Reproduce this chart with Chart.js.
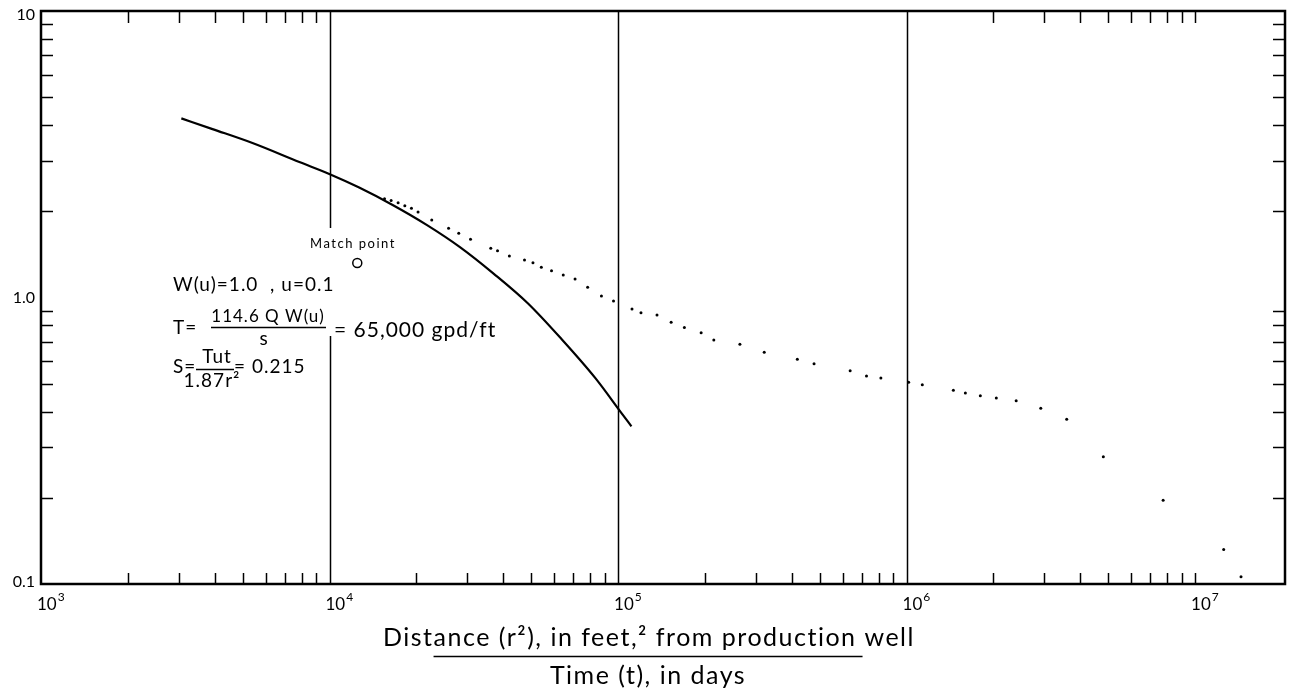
<!DOCTYPE html>
<html>
<head>
<meta charset="utf-8">
<script src="https://cdn.jsdelivr.net/npm/chart.js@4.4.1/dist/chart.umd.min.js"></script>
<style>
  body { margin: 0; background: #fff; }
  #wrap { width: 1291px; height: 692px; position: relative; }
</style>
</head>
<body>
<div id="wrap"><canvas id="typeCurve"></canvas></div>
<script>
// axis ranges
const xMin = 1000, xMax = 20500000;
const yMin = 0.1, yMax = 10;

// type curve W(u) vs 1/u, matched (solid line)
const curveX = [3065, 3932, 5407, 7860, 9980, 12670, 16610, 21780, 28320, 37120, 48660, 63780, 83600, 102800, 111300];
const curveY = [4.22, 3.87, 3.46, 2.97, 2.70, 2.42, 2.10, 1.79, 1.50, 1.21, 0.955, 0.715, 0.522, 0.395, 0.355];

// observed drawdown data, r^2/t vs s (dots)
const obsX = [15510, 16350, 17290, 18240, 19230, 20270, 22610, 25860, 28050, 30810, 36220, 38220, 42010, 47400,
  50720, 54220, 58810, 64590, 70970, 78460, 87580, 96470, 111800, 120100, 136500, 152800, 169800, 194100,
  214800, 264500, 321200, 418300, 478000, 637600, 726300, 814700, 1017000, 1134000, 1453000, 1599000,
  1802000, 2047000, 2399000, 2919000, 3590000, 4809000, 7752000, 12570000, 14430000];
const obsY = [2.21, 2.18, 2.14, 2.09, 2.05, 1.99, 1.865, 1.745, 1.675, 1.597, 1.485, 1.457, 1.396, 1.352,
  1.323, 1.275, 1.24, 1.198, 1.16, 1.085, 1.012, 0.972, 0.912, 0.885, 0.869, 0.819, 0.785, 0.754,
  0.711, 0.687, 0.644, 0.609, 0.587, 0.555, 0.532, 0.524, 0.506, 0.496, 0.475, 0.464,
  0.454, 0.446, 0.436, 0.411, 0.376, 0.278, 0.196, 0.132, 0.106];

// match point
const matchX = 12480, matchY = 1.32;

// ticks
const xMajor = [1e3, 1e4, 1e5, 1e6, 1e7];
const xExponents = ['3', '4', '5', '6', '7'];
const gridX = [1e4, 1e5, 1e6];
const yMajor = [0.1, 1, 10];
const yLabels = ['0.1', '1.0', '10'];
const minorSteps = [2, 3, 4, 5, 6, 7, 8, 9];

const FONT = 'Lato, "DejaVu Sans", sans-serif';

function minorValues(decades) {
  const out = [];
  decades.forEach(d => minorSteps.forEach(m => out.push(m * d)));
  return out;
}

const paperPlugin = {
  id: 'paper',
  beforeDatasetsDraw(chart) {
    const { ctx, chartArea: a, scales: { x, y } } = chart;
    ctx.save();
    ctx.strokeStyle = '#000';

    // vertical decade lines
    ctx.lineWidth = 1.5;
    gridX.forEach(v => {
      const px = Math.round(x.getPixelForValue(v)) + 0.5;
      ctx.beginPath();
      ctx.moveTo(px, a.top);
      ctx.lineTo(px, a.bottom);
      ctx.stroke();
    });
    // the 10^4 line is broken where the lettering sits
    const gx = Math.round(x.getPixelForValue(1e4));
    ctx.fillStyle = '#fff';
    ctx.fillRect(gx - 3, 228, 7, 108);

    // inward ticks, bottom
    const bottomTicks = minorValues([1e3, 1e4, 1e5, 1e6]).concat([1e7]);
    bottomTicks.forEach(v => {
      const px = Math.round(x.getPixelForValue(v)) + 0.5;
      ctx.beginPath();
      ctx.moveTo(px, a.bottom);
      ctx.lineTo(px, a.bottom - 11);
      ctx.stroke();
    });
    // top
    const topTicks = minorValues([1e3, 1e6]).concat([1e7]);
    topTicks.forEach(v => {
      const px = Math.round(x.getPixelForValue(v)) + 0.5;
      ctx.beginPath();
      ctx.moveTo(px, a.top);
      ctx.lineTo(px, a.top + 12);
      ctx.stroke();
    });
    // left and right
    minorValues([0.1, 1]).forEach(v => {
      const py = Math.round(y.getPixelForValue(v)) + 0.5;
      ctx.beginPath();
      ctx.moveTo(a.left, py);
      ctx.lineTo(a.left + 12, py);
      ctx.moveTo(a.right, py);
      ctx.lineTo(a.right - 12, py);
      ctx.stroke();
    });

    // frame
    ctx.lineWidth = 2.5;
    ctx.strokeRect(a.left, a.top, a.right - a.left, a.bottom - a.top);
    ctx.restore();
  },
  afterDraw(chart) {
    const { ctx, chartArea: a, scales: { x, y } } = chart;
    ctx.save();
    ctx.fillStyle = '#000';
    ctx.strokeStyle = '#000';
    ctx.textBaseline = 'middle';

    // y labels
    ctx.font = '16px ' + FONT;
    ctx.textAlign = 'right';
    yMajor.forEach((v, i) => {
      let py = y.getPixelForValue(v);
      if (i === yMajor.length - 1) py += 4;
      if (i === 0) py -= 2;
      ctx.fillText(yLabels[i], 35, py);
    });

    // x labels 10^n
    ctx.textAlign = 'left';
    xMajor.forEach((v, i) => {
      const px = x.getPixelForValue(v) - 4;
      ctx.font = '17px ' + FONT;
      ctx.fillText('10', px, a.bottom + 21);
      const w = ctx.measureText('10').width;
      ctx.font = '12px ' + FONT;
      ctx.fillText(xExponents[i], px + w + 1, a.bottom + 13);
    });

    // axis title as a fraction
    ctx.font = '25px ' + FONT;
    ctx.letterSpacing = '1.5px';
    const top = 'Distance (r\u00b2), in feet,\u00b2 from production well';
    const tx = 383;
    ctx.fillText(top, tx, 638);
    const barStart = tx + ctx.measureText('Dist').width;
    const barEnd = tx + ctx.measureText('Distance (r\u00b2), in feet,\u00b2 from production').width + 6;
    ctx.lineWidth = 1.5;
    ctx.beginPath();
    ctx.moveTo(barStart, 656.5);
    ctx.lineTo(barEnd, 656.5);
    ctx.stroke();
    ctx.textAlign = 'center';
    ctx.letterSpacing = '1.5px';
    ctx.fillText('Time (t), in days', (barStart + barEnd) / 2, 676);

    // match annotation
    ctx.font = '13px ' + FONT;
    ctx.letterSpacing = '1.5px';
    ctx.textAlign = 'center';
    ctx.fillText('Match point', 353, 244);

    ctx.textAlign = 'left';
    ctx.font = '19px ' + FONT;
    ctx.letterSpacing = '1px';
    ctx.fillText('W(u)=1.0  , u=0.1', 173, 285);

    ctx.fillText('T=', 173, 328);
    ctx.textAlign = 'center';
    ctx.font = '17px ' + FONT;
    ctx.fillText('114.6 Q W(u)', 268, 317);
    ctx.font = '19px ' + FONT;
    ctx.fillText('s', 264, 339);
    ctx.lineWidth = 1.5;
    ctx.beginPath();
    ctx.moveTo(211, 327.5);
    ctx.lineTo(326, 327.5);
    ctx.stroke();
    ctx.textAlign = 'left';
    ctx.font = '21px ' + FONT;
    ctx.fillText('= 65,000 gpd/ft', 334, 330);

    ctx.font = '19px ' + FONT;
    ctx.fillText('S=', 173, 367);
    ctx.textAlign = 'center';
    ctx.fillText('Tut', 217, 357);
    ctx.fillText('1.87r\u00b2', 212, 381);
    ctx.beginPath();
    ctx.moveTo(196, 369.5);
    ctx.lineTo(234, 369.5);
    ctx.stroke();
    ctx.textAlign = 'left';
    ctx.fillText('= 0.215', 234, 367);
    ctx.restore();
  }
};

const curvePts = curveX.map((v, i) => ({ x: v, y: curveY[i] }));
const obsPts = obsX.map((v, i) => ({ x: v, y: obsY[i] }));

new Chart(document.getElementById('typeCurve'), {
  type: 'scatter',
  data: {
    datasets: [{
      label: 'Type curve',
      data: curvePts,
      showLine: true,
      borderColor: '#000',
      borderWidth: 2.2,
      pointRadius: 0,
      cubicInterpolationMode: 'monotone'
    }, {
      label: 'Observed',
      data: obsPts,
      pointRadius: 1.5,
      pointBackgroundColor: '#000',
      pointBorderWidth: 0
    }, {
      label: 'Match point',
      data: [{ x: matchX, y: matchY }],
      pointRadius: 4.5,
      pointBackgroundColor: '#fff',
      pointBorderColor: '#000',
      pointBorderWidth: 1.5
    }, {
      label: 'Match centre',
      data: [{ x: matchX, y: matchY }],
      pointRadius: 1.2,
      pointBackgroundColor: '#000',
      pointBorderWidth: 0
    }]
  },
  options: {
    responsive: true,
    maintainAspectRatio: false,
    animation: false,
    layout: { padding: { left: 41, right: 3, top: 11, bottom: 108 } },
    plugins: {
      legend: { display: false },
      tooltip: { enabled: false }
    },
    scales: {
      x: { type: 'logarithmic', min: xMin, max: xMax, display: false },
      y: { type: 'logarithmic', min: yMin, max: yMax, display: false }
    }
  },
  plugins: [paperPlugin]
});
</script>
</body>
</html>
